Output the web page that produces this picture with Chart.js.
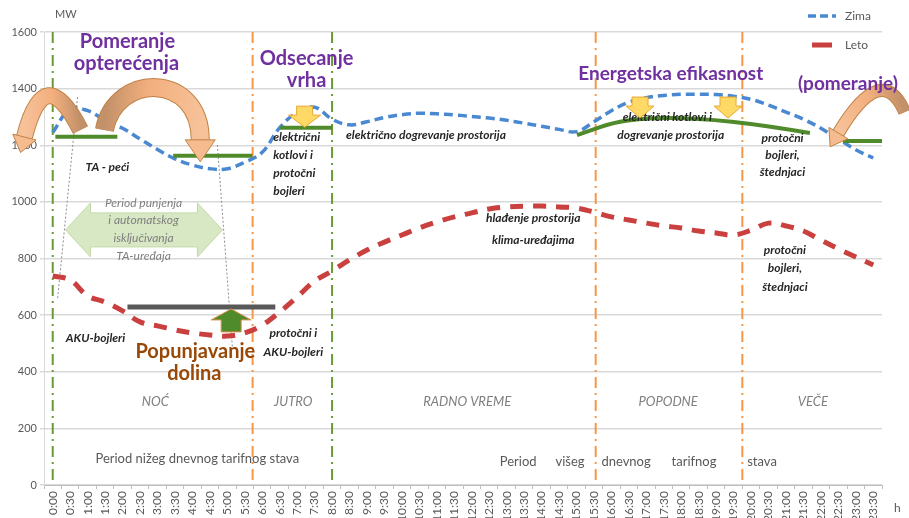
<!DOCTYPE html>
<html>
<head>
<meta charset="utf-8">
<script src="https://cdn.jsdelivr.net/npm/chart.js@4.4.0/dist/chart.umd.min.js"></script>
<style>
  html, body { margin: 0; padding: 0; overflow: hidden; background: #fff; }
  #wrap { position: absolute; left: 0; top: 0; width: 909px; height: 530px; }
</style>
</head>
<body>
<div id="wrap"><canvas id="myChart"></canvas></div>
<script>
// data (MW per half hour)
const hours = ['0:00','0:30','1:00','1:30','2:00','2:30','3:00','3:30','4:00','4:30','5:00','5:30',
  '6:00','6:30','7:00','7:30','8:00','8:30','9:00','9:30','10:00','10:30','11:00','11:30',
  '12:00','12:30','13:00','13:30','14:00','14:30','15:00','15:30','16:00','16:30','17:00','17:30',
  '18:00','18:30','19:00','19:30','20:00','20:30','21:00','21:30','22:00','22:30','23:00','23:30'];

const zima = [1245,1328,1322,1288,1260,1222,1185,1152,1130,1117,1117,1140,
  1175,1262,1316,1334,1292,1272,1283,1298,1308,1313,1311,1307,
  1302,1296,1288,1278,1267,1256,1248,1283,1322,1352,1368,1376,
  1380,1380,1379,1373,1362,1342,1317,1292,1260,1222,1184,1155];

const leto = [738,724,668,646,615,576,562,548,537,530,526,537,
  565,611,664,720,756,795,830,858,883,908,929,947,
  961,975,982,985,985,982,978,964,947,936,925,915,
  908,897,890,883,900,925,915,897,865,834,805,777];

// annotation layer (x = category index, y = MW)
const greenVLines = [0, 16];
const orangeVLines = [11.45, 31.1, 39.5];
const greenSegments = [[0.15, 3.7, 1230], [6.9, 11.43, 1163], [13.03, 16.0, 1262], [45.26, 47.5, 1215]];
const effCurve = [[30.03, 1236], [31.35, 1264], [34.64, 1338], [43.37, 1243]];
const valleyBar = [4.28, 12.75, 629];
const dottedLines = [[[1.42, 1370], [0.27, 653]], [[9.43, 1201], [10.29, 487]]];
const chargeArrow = [0.73, 9.72, 901];
const yellowArrows = [[14.43, 1264], [33.64, 1296], [38.68, 1296]];
const greenArrow = [10.22, 629];
const curvedArrows = [
  [[1.59, 1254], [-0.48, 1508], [-1.62, 1229]],
  [[2.96, 1254], [3.59, 1459], [8.45, 1459], [8.45, 1219]],
  [[48.8, 1317], [47.5, 1501], [45.0, 1243]]
];

const purple = '#7030a0', dark = '#262626', grey = '#7f7f7f';
const notes = [
  ['Pomeranje', 4.28, 1565, 'bold 20px Lato', purple, 'center'],
  ['opterećenja', 4.22, 1487, 'bold 20px Lato', purple, 'center'],
  ['Odsecanje', 14.54, 1508, 'bold 20px Lato', purple, 'center'],
  ['vrha', 14.54, 1427, 'bold 20px Lato', purple, 'center'],
  ['Energetska efikasnost', 35.4, 1452, 'bold 19px Lato', purple, 'center'],
  ['(pomeranje)', 45.55, 1416, 'bold 19px Lato', purple, 'center'],
  ['Popunjavanje', 8.17, 473, 'bold 20px Lato', '#984807', 'center'],
  ['dolina', 8.11, 392, 'bold 20px Lato', '#984807', 'center'],
  ['TA - peći', 3.13, 1123, 'bold italic 12px Lato', dark, 'center'],
  ['električni', 12.63, 1229, 'bold italic 12px Lato', dark, 'left'],
  ['kotlovi i', 12.63, 1166, 'bold italic 12px Lato', dark, 'left'],
  ['protočni', 12.63, 1102, 'bold italic 12px Lato', dark, 'left'],
  ['bojleri', 12.63, 1038, 'bold italic 12px Lato', dark, 'left'],
  ['električno dogrevanje prostorija', 16.8, 1236, 'bold italic 12px Lato', dark, 'left'],
  ['električni kotlovi i', 35.2, 1300, 'bold italic 12px Lato', dark, 'center'],
  ['dogrevanje prostorija', 35.4, 1236, 'bold italic 12px Lato', dark, 'center'],
  ['protočni', 41.8, 1226, 'bold italic 12px Lato', dark, 'center'],
  ['bojleri,', 41.8, 1166, 'bold italic 12px Lato', dark, 'center'],
  ['štednjaci', 41.8, 1106, 'bold italic 12px Lato', dark, 'center'],
  ['hlađenje prostorija', 27.52, 943, 'bold italic 12px Lato', dark, 'center'],
  ['klima-uređajima', 27.52, 865, 'bold italic 12px Lato', dark, 'center'],
  ['protočni', 41.94, 830, 'bold italic 12px Lato', dark, 'center'],
  ['bojleri,', 41.94, 766, 'bold italic 12px Lato', dark, 'center'],
  ['štednjaci', 41.94, 699, 'bold italic 12px Lato', dark, 'center'],
  ['AKU-bojleri', 2.45, 519, 'bold italic 12px Lato', dark, 'center'],
  ['protočni i', 13.78, 537, 'bold italic 12px Lato', dark, 'center'],
  ['AKU-bojleri', 13.78, 470, 'bold italic 12px Lato', dark, 'center'],
  ['Period punjenja', 5.2, 996, 'italic 12px Lato', grey, 'center'],
  ['i automatskog', 5.2, 936, 'italic 12px Lato', grey, 'center'],
  ['isključivanja', 5.2, 872, 'italic 12px Lato', grey, 'center'],
  ['TA-uređaja', 5.2, 809, 'italic 12px Lato', grey, 'center'],
  ['NOĆ', 5.88, 293, 'italic 13px Lato', grey, 'center'],
  ['JUTRO', 13.78, 293, 'italic 13px Lato', grey, 'center'],
  ['RADNO VREME', 23.74, 293, 'italic 13px Lato', grey, 'center'],
  ['POPODNE', 35.25, 293, 'italic 13px Lato', grey, 'center'],
  ['VEČE', 43.54, 293, 'italic 13px Lato', grey, 'center'],
  ['Period nižeg dnevnog tarifnog stava', 8.28, 92, '13px Lato', '#595959', 'center'],
  ['Period', 26.66, 81, '13px Lato', '#595959', 'center'],
  ['višeg', 29.63, 81, '13px Lato', '#595959', 'center'],
  ['dnevnog', 32.84, 81, '13px Lato', '#595959', 'center'],
  ['tarifnog', 36.73, 81, '13px Lato', '#595959', 'center'],
  ['stava', 40.63, 81, '13px Lato', '#595959', 'center']
];

function curvedArrow(ctx, pts, w, headLen, headHalf) {
  const n = pts.length, end = pts[n - 1], prev = pts[n - 2];
  const ang = Math.atan2(end[1] - prev[1], end[0] - prev[0]);
  const path = () => {
    ctx.beginPath();
    ctx.moveTo(pts[0][0], pts[0][1]);
    if (n === 3) ctx.quadraticCurveTo(pts[1][0], pts[1][1], end[0], end[1]);
    else ctx.bezierCurveTo(pts[1][0], pts[1][1], pts[2][0], pts[2][1], end[0], end[1]);
  };
  ctx.save();
  ctx.lineCap = 'butt';
  path(); ctx.lineWidth = w + 2; ctx.strokeStyle = '#c08345'; ctx.stroke();
  const g = ctx.createLinearGradient(pts[0][0], pts[0][1], end[0], end[1]);
  g.addColorStop(0, '#c39169'); g.addColorStop(0.4, '#f2ae7d'); g.addColorStop(1, '#f7c29a');
  path(); ctx.lineWidth = w; ctx.strokeStyle = g; ctx.stroke();
  const nx = -Math.sin(ang), ny = Math.cos(ang);
  ctx.beginPath();
  ctx.moveTo(end[0] + nx * headHalf, end[1] + ny * headHalf);
  ctx.lineTo(end[0] + Math.cos(ang) * headLen, end[1] + Math.sin(ang) * headLen);
  ctx.lineTo(end[0] - nx * headHalf, end[1] - ny * headHalf);
  ctx.closePath();
  ctx.fillStyle = '#f6bc90'; ctx.fill();
  ctx.lineWidth = 1; ctx.strokeStyle = '#c08345'; ctx.stroke();
  ctx.restore();
}

function blockArrow(ctx, cx, tipY, d, headH, headHalf, shaft, shaftHalf, fill, stroke) {
  const by = tipY - d * headH, ty = by - d * shaft;
  ctx.beginPath();
  ctx.moveTo(cx, tipY);
  ctx.lineTo(cx + headHalf, by); ctx.lineTo(cx + shaftHalf, by);
  ctx.lineTo(cx + shaftHalf, ty); ctx.lineTo(cx - shaftHalf, ty);
  ctx.lineTo(cx - shaftHalf, by); ctx.lineTo(cx - headHalf, by);
  ctx.closePath();
  ctx.fillStyle = fill; ctx.fill();
  ctx.lineWidth = 1; ctx.strokeStyle = stroke; ctx.stroke();
}

const decor = {
  id: 'decor',
  beforeDatasetsDraw(chart) {
    const ctx = chart.ctx, xs = chart.scales.x, ys = chart.scales.y;
    const X = i => xs.getPixelForValue(i), Y = v => ys.getPixelForValue(v);
    ctx.save();
    // period separators
    ctx.lineWidth = 2;
    ctx.setLineDash([11, 5, 2, 5]);
    greenVLines.forEach(i => {
      ctx.strokeStyle = '#6a9a34';
      ctx.beginPath(); ctx.moveTo(X(i), Y(1600)); ctx.lineTo(X(i), Y(0)); ctx.stroke();
    });
    orangeVLines.forEach(i => {
      ctx.strokeStyle = '#f79646';
      ctx.beginPath(); ctx.moveTo(X(i), Y(1600)); ctx.lineTo(X(i), Y(0)); ctx.stroke();
    });
    // light green double arrow
    const [l, r, cv] = chargeArrow;
    const xl = X(l), xr = X(r), yc = Y(cv);
    ctx.setLineDash([]);
    ctx.beginPath();
    ctx.moveTo(xl, yc);
    ctx.lineTo(xl + 25, yc - 27); ctx.lineTo(xl + 25, yc - 17);
    ctx.lineTo(xr - 25, yc - 17); ctx.lineTo(xr - 25, yc - 27);
    ctx.lineTo(xr, yc);
    ctx.lineTo(xr - 25, yc + 27); ctx.lineTo(xr - 25, yc + 17);
    ctx.lineTo(xl + 25, yc + 17); ctx.lineTo(xl + 25, yc + 27);
    ctx.closePath();
    ctx.fillStyle = '#d8e7c4'; ctx.fill();
    ctx.strokeStyle = '#c2d9a8'; ctx.lineWidth = 1; ctx.stroke();
    // thin dotted guides
    ctx.setLineDash([2, 2]);
    ctx.strokeStyle = '#8c8c8c';
    dottedLines.forEach(([a, b]) => {
      ctx.beginPath(); ctx.moveTo(X(a[0]), Y(a[1])); ctx.lineTo(X(b[0]), Y(b[1])); ctx.stroke();
    });
    ctx.restore();
  },
  afterDatasetsDraw(chart) {
    const ctx = chart.ctx, xs = chart.scales.x, ys = chart.scales.y;
    const X = i => xs.getPixelForValue(i), Y = v => ys.getPixelForValue(v);
    const area = chart.chartArea;
    ctx.save();
    // green load levels
    ctx.strokeStyle = '#4f8a2b';
    ctx.lineWidth = 4;
    greenSegments.forEach(([a, b, v]) => {
      ctx.beginPath(); ctx.moveTo(X(a), Y(v)); ctx.lineTo(X(b), Y(v)); ctx.stroke();
    });
    const p = effCurve.map(([i, v]) => [X(i), Y(v)]);
    ctx.beginPath();
    ctx.moveTo(p[0][0], p[0][1]);
    ctx.lineTo(p[1][0], p[1][1]);
    ctx.quadraticCurveTo(p[2][0], p[2][1], p[3][0], p[3][1]);
    ctx.stroke();
    // valley filling bar
    ctx.strokeStyle = '#595959';
    ctx.lineWidth = 5;
    ctx.beginPath(); ctx.moveTo(X(valleyBar[0]), Y(valleyBar[2])); ctx.lineTo(X(valleyBar[1]), Y(valleyBar[2])); ctx.stroke();
    blockArrow(ctx, X(greenArrow[0]), Y(greenArrow[1]) + 2, -1, 11, 20, 12, 10, '#4f8a2b', '#d9924c');
    // curved orange arrows
    const cp = curvedArrows.map(a => a.map(([i, v]) => [X(i), Y(v)]));
    curvedArrow(ctx, cp[0], 15, 16, 12);
    curvedArrow(ctx, cp[1], 17, 22, 15);
    curvedArrow(ctx, cp[2], 11, 16, 11);
    // texts
    ctx.textBaseline = 'middle';
    notes.forEach(([t, i, v, font, color, align]) => {
      ctx.font = font; ctx.fillStyle = color; ctx.textAlign = align;
      ctx.fillText(t, X(i), Y(v));
    });
    // yellow arrows on top of the texts
    yellowArrows.forEach(([i, v], k) => {
      const hh = k === 0 ? 16 : 14;
      blockArrow(ctx, X(i), Y(v), 1, 12, hh, 9, 8, '#ffd966', '#e8a92e');
    });
    // axis captions
    ctx.font = '11px Lato'; ctx.fillStyle = '#595959'; ctx.textAlign = 'left';
    ctx.fillText('MW', area.left + 11, area.top - 18);
    ctx.font = '12px Lato';
    ctx.fillText('h', area.right + 12, area.bottom + 23);
    // legend
    ctx.setLineDash([8, 4]);
    ctx.lineWidth = 3.5; ctx.strokeStyle = '#4a89d2';
    ctx.beginPath(); ctx.moveTo(area.right - 74, area.top - 16); ctx.lineTo(area.right - 46, area.top - 16); ctx.stroke();
    ctx.setLineDash([]);
    ctx.lineWidth = 5; ctx.strokeStyle = '#c9403f';
    ctx.beginPath(); ctx.moveTo(area.right - 70, area.top + 13); ctx.lineTo(area.right - 50, area.top + 13); ctx.stroke();
    ctx.font = '12px Lato'; ctx.fillStyle = '#595959';
    ctx.fillText('Zima', area.right - 37, area.top - 16);
    ctx.fillText('Leto', area.right - 37, area.top + 13);
    ctx.restore();
  }
};

const ctx = document.getElementById('myChart').getContext('2d');
const myChart = new Chart(ctx, {
  type: 'line',
  data: {
    labels: hours,
    datasets: [{
      label: 'Zima',
      data: zima,
      borderColor: '#4a89d2',
      borderWidth: 3.5,
      borderDash: [9, 5],
      pointRadius: 0,
      tension: 0.4,
      fill: false
    }, {
      label: 'Leto',
      data: leto,
      borderColor: '#c9403f',
      borderWidth: 5,
      borderDash: [13, 10],
      pointRadius: 0,
      tension: 0.4,
      fill: false
    }]
  },
  options: {
    responsive: true,
    maintainAspectRatio: false,
    animation: false,
    layout: { padding: { left: 0, right: 27, top: 32, bottom: 0 } },
    plugins: { legend: { display: false }, tooltip: { enabled: false } },
    scales: {
      x: {
        offset: true,
        afterFit: s => { s.height = 45; },
        grid: { drawOnChartArea: false, drawTicks: true, tickLength: 4, offset: true, color: '#bfbfbf' },
        border: { color: '#bfbfbf' },
        ticks: { autoSkip: false, maxRotation: 90, minRotation: 90, padding: 2,
          color: '#595959', font: { family: 'Lato', size: 12 } }
      },
      y: {
        min: 0, max: 1600,
        afterFit: s => { s.width = 44; },
        ticks: { stepSize: 200, padding: 3, color: '#595959', font: { family: 'Lato', size: 11 },
          callback: v => String(v) },
        grid: { color: '#d9d9d9', lineWidth: 1.5, tickLength: 4 },
        border: { color: '#d9d9d9' }
      }
    }
  },
  plugins: [decor]
});
</script>
</body>
</html>
